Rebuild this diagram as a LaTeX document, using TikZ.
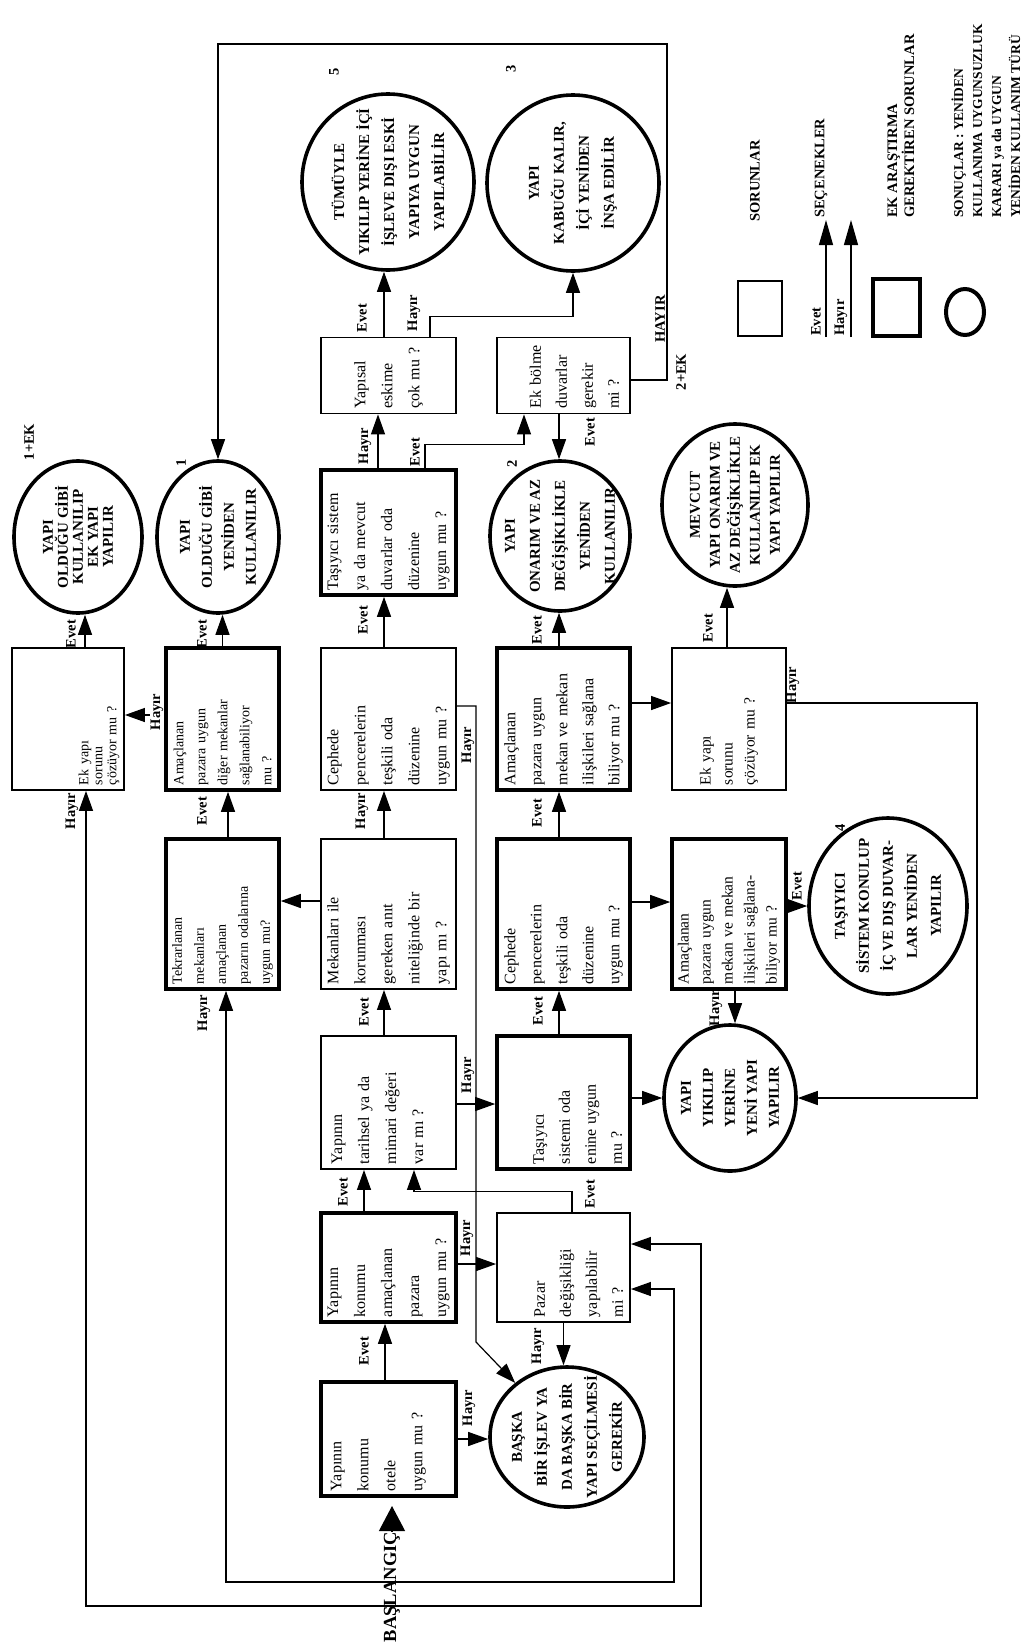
\documentclass[tikz,border=0pt]{standalone}
\usepackage{fontspec}
\setmainfont{Liberation Serif}
\usetikzlibrary{arrows.meta,shapes.geometric}

\begin{document}
\begin{tikzpicture}[
  x=1pt, y=-1pt,
  qbox/.style={rectangle, draw, line width=1.8pt, rotate=90, align=left,
    inner xsep=5pt, inner ysep=2pt},
  kbox/.style={qbox, line width=3.6pt},
  res/.style={ellipse, draw, line width=3.6pt, rotate=90, align=center,
    inner xsep=-60pt, inner ysep=-50pt, font=\fontsize{15}{25}\selectfont\bfseries},
  tag/.style={rotate=90, inner sep=1pt, font=\fontsize{14.5}{16}\selectfont\bfseries},
  legtxt/.style={rotate=90, inner sep=0pt, anchor=west, align=left,
    font=\fontsize{14.5}{17}\selectfont\bfseries},
  arr/.style={line width=1.2pt, -{Triangle[length=20pt, width=14pt]}},
  arrtwo/.style={line width=1.2pt,
    {Triangle[length=20pt, width=14pt]}-{Triangle[length=20pt, width=14pt]}},
  % box columns (across the page)
  col1/.style={minimum height=112pt, font=\fontsize{14}{14}\selectfont},
  col2/.style={minimum height=113pt, font=\fontsize{14}{22}\selectfont},
  col3/.style={minimum height=135pt, font=\fontsize{16}{27}\selectfont},
  col4/.style={minimum height=133pt, font=\fontsize{16}{26}\selectfont},
  col5/.style={minimum height=114pt, font=\fontsize{15.5}{22}\selectfont},
  % box rows (down the page)
  rowTop/.style={minimum width=76pt, text width=66pt},
  rowT/.style={minimum width=125pt, text width=115pt},
  rowA/.style={minimum width=142pt, text width=132pt},
  rowB/.style={minimum width=150pt, text width=140pt},
  rowC/.style={minimum width=133pt, text width=123pt},
  rowD/.style={minimum width=109pt, text width=99pt},
  rowE/.style={minimum width=114pt, text width=104pt},
]
\useasboundingbox (0,0) rectangle (1026,1651);

% COLUMN 3: main line
\node[kbox, col3, rowE, text depth=104.5pt] (otel) at (388.5,1439)
  {Yapının\\konumu\\otele\\uygun mu ?};
\node[kbox, col3, rowD] (pazar) at (388.5,1267.5)
  {Yapının\\konumu\\amaçlanan\\pazara\\uygun mu ?};
\node[qbox, col3, rowC, text depth=103pt] (tarih) at (388.5,1102.5)
  {Yapının\\tarihsel ya da\\mimari değeri\\var mı ?};
\node[qbox, col3, rowB] (anit) at (388.5,914)
  {Mekanları ile\\korunması\\gereken anıt\\niteliğinde bir\\yapı mı ?};
\node[qbox, col3, rowA] (cephe) at (388.5,719)
  {Cephede\\pencerelerin\\teşkili oda\\düzenine\\uygun mu ?};
\node[kbox, col3, rowT] (tasiyici) at (388.5,532.5)
  {Taşıyıcı sistem\\ya da mevcut\\duvarlar oda\\düzenine\\uygun mu ?};
\node[qbox, col3, rowTop] (eskime) at (388.5,375.5)
  {Yapısal\\eskime\\çok mu ?};

% COLUMN 4
\node[qbox, col4, rowD, text height=41pt] (pazdeg) at (563.5,1267.5)
  {Pazar\\değişikliği\\yapılabilir\\mi ?};
\node[kbox, col4, rowC, text height=39pt] (enine) at (563.5,1102.5)
  {Taşıyıcı\\sistemi oda\\enine uygun\\mu ?};
\node[kbox, col4, rowB] (cephe2) at (563.5,914)
  {Cephede\\pencerelerin\\teşkili oda\\düzenine\\uygun mu ?};
\node[kbox, col4, rowA] (mekan) at (563.5,719)
  {Amaçlanan\\pazara uygun\\mekan ve mekan\\ilişkileri sağlana\\biliyor mu ?};
\node[qbox, col4, rowTop, text height=33pt] (bolme) at (563.5,375.5)
  {Ek bölme\\duvarlar\\gerekir\\mi ?};

% COLUMN 5
\node[kbox, col5, rowB] (mekan2) at (729,914)
  {Amaçlanan\\pazara uygun\\mekan ve mekan\\ilişkileri sağlana-\\biliyor mu ?};
\node[qbox, col5, rowA] (ekyapi2) at (729,719)
  {Ek yapı\\sorunu\\çözüyor mu ?};

% COLUMNS 1 AND 2
\node[kbox, col2, rowB] (tekrar) at (222.5,914)
  {Tekrarlanan\\mekanları\\amaçlanan\\pazarın odalarına\\uygun mu?};
\node[kbox, col2, rowA] (digermek) at (222.5,719)
  {Amaçlanan\\pazara uygun\\diğer mekanlar\\sağlanabiliyor\\mu ?};
\node[qbox, col1, rowA, text height=72pt] (ekyapi) at (68,719)
  {Ek yapı\\sorunu\\çözüyor mu ?};

% RESULTS
\node[res, minimum width=152pt, minimum height=128pt,
  font=\fontsize{15}{15}\selectfont\bfseries] (olduguek) at (78,537)
  {YAPI\\OLDUĞU GİBİ\\KULLANILIP\\EK YAPI\\YAPILIR};
\node[res, minimum width=152pt, minimum height=122pt,
  font=\fontsize{15}{22}\selectfont\bfseries] (oldugu) at (218,537)
  {YAPI\\OLDUĞU GİBİ\\YENİDEN\\KULLANILIR};
\node[res, minimum width=150pt, minimum height=140pt] (onarim) at (560,536)
  {YAPI\\ONARIM VE AZ\\DEĞİŞİKLİKLE\\YENİDEN\\KULLANILIR};
\node[res, minimum width=162pt, minimum height=146pt,
  font=\fontsize{15}{20}\selectfont\bfseries] (mevcut) at (735,505)
  {MEVCUT\\YAPI ONARIM VE\\AZ DEĞİŞİKLİKLE\\KULLANILIP EK\\YAPI YAPILIR};
\node[res, minimum width=176pt, minimum height=172pt] (tumu) at (388,182)
  {TÜMÜYLE\\YIKILIP YERİNE İÇİ\\İŞLEVE DIŞI ESKİ\\YAPIYA UYGUN\\YAPILABİLİR};
\node[res, minimum width=176pt, minimum height=172pt] (kabuk) at (573,183)
  {YAPI\\KABUĞU KALIR,\\İÇİ YENİDEN\\İNŞA EDİLİR};
\node[res, minimum width=140pt, minimum height=154pt] (baska) at (567,1437)
  {BAŞKA\\BİR İŞLEV YA\\DA BAŞKA BİR\\YAPI SEÇİLMESİ\\GEREKİR};
\node[res, minimum width=146pt, minimum height=132pt,
  font=\fontsize{15}{22}\selectfont\bfseries] (yikilip) at (730,1098)
  {YAPI\\YIKILIP\\YERİNE\\YENİ YAPI\\YAPILIR};
\node[res, minimum width=176pt, minimum height=158pt,
  font=\fontsize{15}{24}\selectfont\bfseries] (tasisis) at (888,906)
  {TAŞIYICI\\SİSTEM KONULUP\\İÇ VE DIŞ DUVAR-\\LAR YENİDEN\\YAPILIR};

% START
\node[rotate=90, inner sep=0pt, font=\fontsize{18.5}{20}\selectfont\bfseries]
  (start) at (392,1587) {BAŞLANGIÇ};
\coordinate (starttip) at (392,1506);

% ARROWS: column 3
\draw[line width=1.2pt, -{Triangle[length=25pt, width=26pt]}] (start.east) -- (starttip);
\draw[arr] ([xshift=-3.5pt]otel.east) -- ([xshift=-3.5pt]pazar.west);
\draw[arr] (otel.south) -- (otel.south -| baska.north);
\draw[arr] ([xshift=-24.5pt]pazar.east) -- ([xshift=-24.5pt]tarih.west);
\draw[arr] ([yshift=3.5pt]pazar.south) -- ([yshift=3.5pt]pazdeg.north);
\draw[arr] (pazdeg.west) -- (pazdeg.west |- baska.east);
\draw[arr] ([xshift=8.5pt]pazdeg.east) -- ++(0,-21) -| ([xshift=25.5pt]tarih.west);
\draw[arr] ([xshift=-4.5pt]tarih.east) -- ([xshift=-4.5pt]anit.west);
\draw[arr] ([yshift=-1.5pt]tarih.south) -- ([yshift=-1.5pt]enine.north);
\draw[arr] ([xshift=-4.5pt]anit.east) -- ([xshift=-4.5pt]cephe.west);
\draw[arr] ([yshift=13pt]anit.north) -- ([yshift=13pt]tekrar.south);
\draw[arr] ([xshift=-4.5pt]cephe.east) -- ([xshift=-4.5pt]tasiyici.west);
\draw[arr] ([yshift=13pt]cephe.south) -| (476,1342) -- (baska);
\draw[arr] ([xshift=-10.5pt]tasiyici.east) -- ([xshift=-10.5pt]eskime.west);
\draw[arr] ([xshift=36.5pt]tasiyici.east) -- ++(0,-24) -| ([xshift=-39.5pt]bolme.west);
\draw[arr] ([xshift=-4.5pt]eskime.east) -- ([xshift=-4.5pt]eskime.east |- tumu.west);
\draw[arr] ([xshift=41.5pt]eskime.east) -- ++(0,-20) -| (kabuk.west);
\draw[arr] ([xshift=-4.5pt]bolme.west) -- ([xshift=-4.5pt]bolme.west |- onarim.east);
\draw[arr] ([yshift=-4.5pt]bolme.south) -| (667,44) -| (oldugu.east);

% ARROWS: columns 4 and 5
\draw[arr] ([xshift=-4.5pt]mekan.east) -- ([xshift=-4.5pt]mekan.east |- onarim.west);
\draw[arr] ([yshift=16pt]mekan.south) -- ([yshift=16pt]ekyapi2.north);
\draw[arr] ([xshift=-4.5pt]cephe2.east) -- ([xshift=-4.5pt]mekan.west);
\draw[arr] ([yshift=12pt]cephe2.south) -- ([yshift=12pt]mekan2.north);
\draw[arr] ([xshift=-4.5pt]enine.east) -- ([xshift=-4.5pt]cephe2.west);
\draw[arr] ([yshift=4.5pt]enine.south) -- ([yshift=4.5pt]enine.south -| yikilip.north);
\draw[arr] ([yshift=8pt]mekan2.south) -- ([yshift=8pt]mekan2.south -| tasisis.north);
\draw[arr] ([xshift=6pt]mekan2.west) -- ([xshift=6pt]mekan2.west |- yikilip.east);
\draw[arr] ([xshift=-2pt]ekyapi2.east) -- ([xshift=-2pt]ekyapi2.east |- mevcut.west);
\draw[arr] ([yshift=16pt]ekyapi2.south) -| (977,1098) -- (yikilip.south);

% ARROWS: columns 1 and 2
\draw[arr] (digermek.east) -- (digermek.east |- oldugu.west);
\draw[arr] ([yshift=4pt]digermek.north) -- ([yshift=4pt]ekyapi.south);
\draw[arr] ([xshift=17pt]ekyapi.east) -- ([xshift=17pt]ekyapi.east |- olduguek.west);
\draw[arr] ([xshift=5.5pt]tekrar.east) -- ([xshift=5.5pt]digermek.west);

% LOOPS BACK TO PAZAR
\draw[arrtwo] ([xshift=18pt]ekyapi.west) -- (86,1606) -| (701,1244)
  -- ([yshift=23.5pt]pazdeg.south);
\draw[arrtwo] ([xshift=3.5pt]tekrar.west) -- (226,1582) -| (674,1289)
  -- ([yshift=-21.5pt]pazdeg.south);

% EVET / HAYIR
\node[tag] (evOtel) at (364,1351) {Evet};
\node[tag] (hyOtel) at (469,1408) {Hayır};
\node[tag] (evPazar) at (343,1192) {Evet};
\node[tag] (hyPazar) at (467,1238) {Hayır};
\node[tag] (hyPazdeg) at (538,1346) {Hayır};
\node[tag] (evPazdeg) at (590,1194) {Evet};
\node[tag] (evTarih) at (364,1012) {Evet};
\node[tag] (hyTarih) at (468,1075) {Hayır};
\node[tag] (hyAnit) at (362,811) {Hayır};
\node[tag] (evCephe) at (363,620) {Evet};
\node[tag] (hyCephe) at (468,745) {Hayır};
\node[tag] (hyTasiyici) at (365,446) {Hayır};
\node[tag] (evTasiyici) at (415,452) {Evet};
\node[tag] (evEskime) at (362,318) {Evet};
\node[tag] (hyEskime) at (414,313) {Hayır};
\node[tag] (evBolme) at (590,432) {Evet};
\node[tag] (hyBolme) at (660,319) {HAYIR};
\node[tag] (evMekan) at (537,630) {Evet};
\node[tag] (evCephe2) at (537,813) {Evet};
\node[tag] (evEnine) at (538,1011) {Evet};
\node[tag] (evMekan2) at (797,886) {Evet};
\node[tag] (hyMekan2) at (716,1008) {Hayır};
\node[tag] (evEkyapi2) at (708,628) {Evet};
\node[tag] (hyEkyapi2) at (793,685) {Hayır};
\node[tag] (evDiger) at (202,634) {Evet};
\node[tag, fill=white] (hyDiger) at (157,712) {Hayır};
\node[tag] (evEkyapi) at (71,634) {Evet};
\node[tag] (evTekrar) at (202,811) {Evet};
\node[tag] (hyEkyapi) at (72,811) {Hayır};
\node[tag] (hyTekrar) at (204,1013) {Hayır};

% RESULT NUMBERS
\node[tag] (n5) at (334,72) {5};
\node[tag] (n3) at (511,69) {3};
\node[tag] (n1ek) at (29,442) {1+EK};
\node[tag] (n1) at (181,463) {1};
\node[tag] (n2) at (512,464) {2};
\node[tag] (n4) at (840,828) {4};
\node[tag] (n2ek) at (681,372) {2+EK};

% LEGEND
\node[draw, line width=2pt, minimum width=44pt, minimum height=55pt, inner sep=0pt]
  (lgsq) at (760,308.5) {};
\node[legtxt] (lgsor) at (755,222) {SORUNLAR};
\coordinate (lgev0) at (826,337);
\coordinate (lgev1) at (826,220);
\coordinate (lghy0) at (851,337);
\coordinate (lghy1) at (851,220);
\draw[line width=1.2pt, -{Triangle[length=25pt, width=14pt]}] (lgev0) -- (lgev1);
\draw[line width=1.2pt, -{Triangle[length=25pt, width=14pt]}] (lghy0) -- (lghy1);
\node[tag, anchor=west] (lgev) at (816,337) {Evet};
\node[tag, anchor=west] (lghy) at (841,337) {Hayır};
\node[legtxt] (lgsec) at (821,218) {SEÇENEKLER};
\node[draw, line width=4.5pt, minimum width=47pt, minimum height=57pt, inner sep=0pt]
  (lgkq) at (896.5,307.5) {};
\node[legtxt] (lgek) at (901,218) {EK ARAŞTIRMA\\GEREKTİREN SORUNLAR};
\node[ellipse, draw, line width=4pt, minimum width=38pt, minimum height=46pt, inner sep=0pt]
  (lgcir) at (965,312) {};
\node[legtxt, font=\fontsize{13.5}{19}\selectfont\bfseries] (lgson) at (986,218)
  {SONUÇLAR : YENİDEN\\KULLANIMA UYGUNSUZLUK\\KARARI ya da UYGUN\\YENİDEN KULLANIM TÜRÜ};
\end{tikzpicture}
\end{document}
